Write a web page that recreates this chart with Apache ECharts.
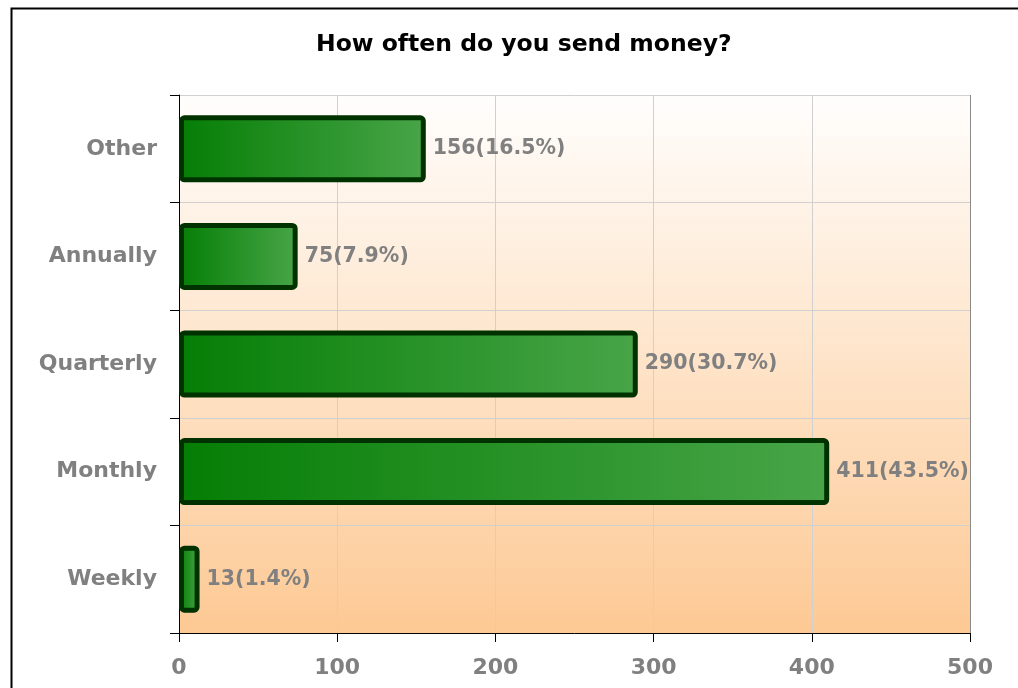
<!DOCTYPE html>
<html><head><meta charset="utf-8">
<script src="https://cdn.jsdelivr.net/npm/echarts@6/dist/echarts.min.js"></script>
<style>html,body{margin:0;padding:0;background:#fff}#c{width:1018px;height:688px}</style>
</head><body><div id="c"></div>
<script>
const categories = ['Weekly', 'Monthly', 'Quarterly', 'Annually', 'Other'];
const counts = [13, 411, 290, 75, 156];
const percents = [1.4, 43.5, 30.7, 7.9, 16.5];
const titleText = 'How often do you send money?';

const chart = echarts.init(document.getElementById('c'), null, {renderer: 'canvas'});
const font = '"DejaVu Sans", Verdana, sans-serif';
chart.setOption({
  backgroundColor: '#ffffff',
  animation: false,
  title: {
    text: titleText, left: 311, top: 28,
    textStyle: {fontFamily: font, fontSize: 23.5, fontWeight: 'bold', color: '#000'}
  },
  graphic: [{
    type: 'rect', left: 9, top: 6, z: 100,
    shape: {width: 1200, height: 900},
    style: {fill: null, stroke: '#000', lineWidth: 2}
  }],
  grid: {
    left: 179, right: 48, top: 95, bottom: 55, show: true, borderWidth: 0,
    backgroundColor: new echarts.graphic.LinearGradient(0, 0, 0, 1, [
      {offset: 0, color: '#fffefd'}, {offset: 1, color: '#fdc994'}
    ])
  },
  xAxis: {
    type: 'value', min: 0, max: 500, interval: 100,
    axisLine: {show: true, lineStyle: {color: '#000', width: 1}},
    axisTick: {show: true, length: 9, lineStyle: {color: '#000'}},
    axisLabel: {margin: 24, fontFamily: font, fontSize: 22, fontWeight: 'bold', color: '#808080'},
    splitLine: {show: true, lineStyle: {color: ['#d0d0d0','#d0d0d0','#d0d0d0','#d0d0d0','#d0d0d0','#8a8a8a'], width: 1}}
  },
  yAxis: {
    type: 'category', data: categories,
    axisLine: {show: true, lineStyle: {color: '#000', width: 1}},
    axisTick: {show: true, length: 9, lineStyle: {color: '#000'}},
    axisLabel: {margin: 22, fontFamily: font, fontSize: 22, fontWeight: 'bold', color: '#808080'},
    splitLine: {show: true, lineStyle: {color: '#d0d0d0', width: 1}}
  },
  series: [{
    type: 'bar',
    data: counts,
    barWidth: 67,
    itemStyle: {
      color: new echarts.graphic.LinearGradient(0, 0, 1, 0, [
        {offset: 0, color: '#057e05'}, {offset: 1, color: '#48a548'}
      ]),
      borderColor: '#003200', borderWidth: 5, borderRadius: 3
    },
    label: {
      show: true, position: 'right', distance: 7,
      fontFamily: font, fontSize: 20.5, fontWeight: 'bold', color: '#808080',
      formatter: p => counts[p.dataIndex] + '(' + percents[p.dataIndex].toFixed(1) + '%)'
    }
  }]
});
</script></body></html>
